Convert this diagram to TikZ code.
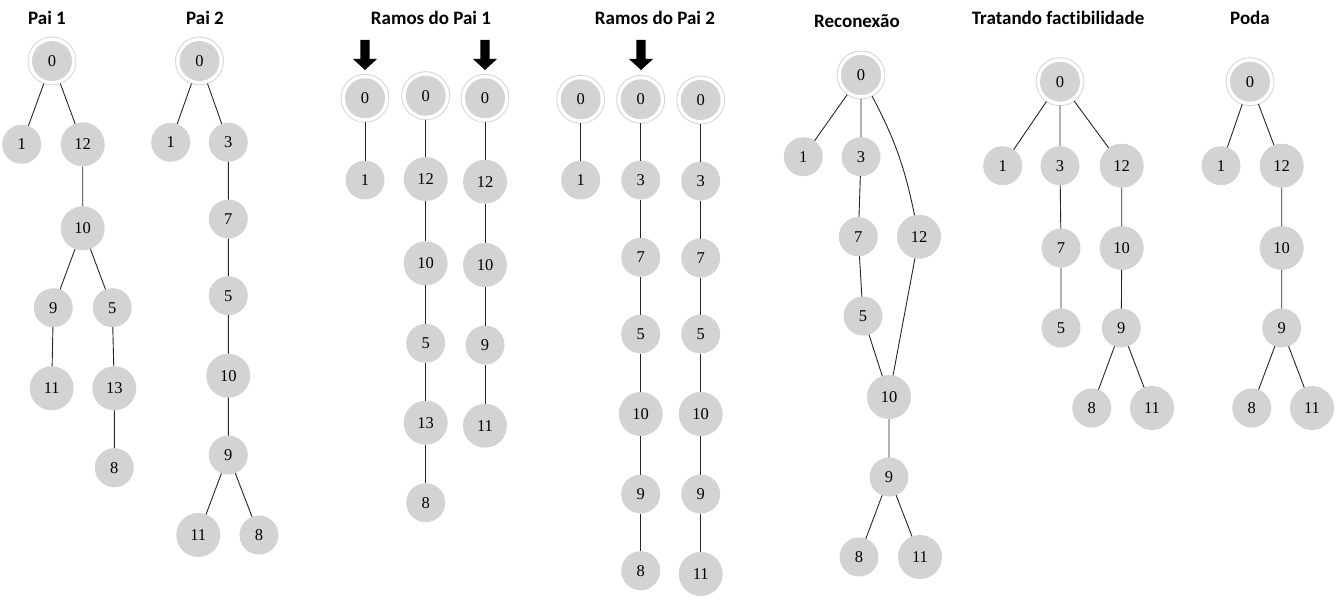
\documentclass[tikz,border=0pt]{standalone}
\usepackage{fontspec}
\usetikzlibrary{calc}
\setmainfont{Liberation Serif}
\newfontfamily\titlefont[Ligatures={NoCommon}]{Carlito}
\definecolor{nodegray}{HTML}{D3D3D3}
\definecolor{ringgray}{HTML}{D6D6D6}
\tikzset{
  x=1pt, y=-1pt,
  nd/.style={circle, fill=nodegray, minimum size=39pt, inner sep=0pt, outer sep=0pt, font=\fontsize{16.5}{16.5}\selectfont},
  nn/.style={nd, minimum size=44pt},
  rt/.style={circle, draw=ringgray, line width=0.9pt, fill=white, minimum size=48pt, inner sep=0pt, outer sep=0pt,
     font=\fontsize{16.5}{16.5}\selectfont,
     path picture={\fill[nodegray] (path picture bounding box.center) circle (20pt);}},
  ttl/.style={font=\titlefont\bfseries\fontsize{19}{20}\selectfont, inner sep=0pt},
  ed/.style={draw=black!85, line width=0.9pt},
  bigarrow/.style={fill=black}
}
\begin{document}
\begin{tikzpicture}
\useasboundingbox (0,0) rectangle (1341,607);
% titles
\node[ttl] (t1) at (47,18) {Pai 1};
\node[ttl] (t2) at (205,18) {Pai 2};
\node[ttl] (t3) at (431,18) {Ramos do Pai 1};
\node[ttl] (t4) at (655,18) {Ramos do Pai 2};
\node[ttl] (t5) at (857,21) {Reconexão};
\node[ttl] (t6) at (1058,18) {Tratando factibilidade};
\node[ttl] (t7) at (1250,18) {Poda};

% arrows
\foreach \ax/\nm in {365/a1, 485/a2, 641/a3}{
  \coordinate (\nm) at (\ax,70);
  \fill[bigarrow] ($(\nm)+(-4.7,-30)$) -- ($(\nm)+(4.7,-30)$) -- ($(\nm)+(4.7,-11)$) -- ($(\nm)+(12,-11)$) -- (\nm) -- ($(\nm)+(-12,-11)$) -- ($(\nm)+(-4.7,-11)$) -- cycle;
}

% ---------- Pai 1
\node[rt] (p0) at (52,61) {0};
\node[nd] (p1) at (21.7,144.3) {1};
\node[nn] (p12) at (82.7,144.3) {12};
\node[nn] (p10) at (82.7,228.3) {10};
\node[nd] (p9) at (53.3,307.7) {9};
\node[nd] (p5) at (112.3,307.7) {5};
\node[nn] (p11) at (51.7,388.3) {11};
\node[nn] (p13) at (114.3,388.3) {13};
\node[nd] (p8) at (114.3,467.7) {8};
\draw[ed] (p0)--(p1) (p0)--(p12) (p12)--(p10) (p10)--(p9) (p10)--(p5) (p9)--(p11) (p5)--(p13) (p13)--(p8);

% ---------- Pai 2
\node[rt] (q0) at (199.5,61) {0};
\node[nd] (q1) at (170.7,142.3) {1};
\node[nd] (q3) at (228.3,142.3) {3};
\node[nd] (q7) at (228.3,219) {7};
\node[nd] (q5) at (228.3,295.7) {5};
\node[nn] (q10) at (228.3,375.7) {10};
\node[nd] (q9) at (228.3,455) {9};
\node[nn] (q11) at (198.3,535) {11};
\node[nd] (q8) at (259,535) {8};
\draw[ed] (q0)--(q1) (q0)--(q3) (q3)--(q7) (q7)--(q5) (q5)--(q10) (q10)--(q9) (q9)--(q11) (q9)--(q8);

% ---------- Ramos do Pai 1
\node[rt] (ra0) at (365,98.3) {0};
\node[nd] (ra1) at (365,180) {1};
\draw[ed] (ra0)--(ra1);
\node[rt] (rb0) at (425.7,95.7) {0};
\node[nn] (rb12) at (425.7,179) {12};
\node[nn] (rb10) at (425.7,263.3) {10};
\node[nd] (rb5) at (425.7,343.3) {5};
\node[nn] (rb13) at (425.7,422.7) {13};
\node[nd] (rb8) at (425.7,502.7) {8};
\draw[ed] (rb0)--(rb12) (rb12)--(rb10) (rb10)--(rb5) (rb5)--(rb13) (rb13)--(rb8);
\node[rt] (rc0) at (485,98.3) {0};
\node[nn] (rc12) at (485,181.7) {12};
\node[nn] (rc10) at (485,265) {10};
\node[nd] (rc9) at (485,345) {9};
\node[nn] (rc11) at (485,425.7) {11};
\draw[ed] (rc0)--(rc12) (rc12)--(rc10) (rc10)--(rc9) (rc9)--(rc11);

% ---------- Ramos do Pai 2
\node[rt] (sa0) at (580.7,99.3) {0};
\node[nd] (sa1) at (580.7,180) {1};
\draw[ed] (sa0)--(sa1);
\node[rt] (sb0) at (640.7,99.3) {0};
\node[nd] (sb3) at (640.7,180) {3};
\node[nd] (sb7) at (640.7,257.3) {7};
\node[nd] (sb5) at (640.7,334) {5};
\node[nn] (sb10) at (640.7,414) {10};
\node[nd] (sb9) at (640.7,494) {9};
\node[nd] (sb8) at (640.7,570.7) {8};
\draw[ed] (sb0)--(sb3) (sb3)--(sb7) (sb7)--(sb5) (sb5)--(sb10) (sb10)--(sb9) (sb9)--(sb8);
\node[rt] (sc0) at (700.7,100) {0};
\node[nd] (sc3) at (700.7,181) {3};
\node[nd] (sc7) at (700.7,258) {7};
\node[nd] (sc5) at (700.7,334) {5};
\node[nn] (sc10) at (700.7,414) {10};
\node[nd] (sc9) at (700.7,494) {9};
\node[nn] (sc11) at (700.7,574) {11};
\draw[ed] (sc0)--(sc3) (sc3)--(sc7) (sc7)--(sc5) (sc5)--(sc10) (sc10)--(sc9) (sc9)--(sc11);

% ---------- Reconexão
\node[rt] (c0) at (861,75) {0};
\node[nd] (c1) at (803.3,156.7) {1};
\node[nd] (c3) at (861,156.7) {3};
\node[nd] (c7) at (858.3,236.7) {7};
\node[nn] (c12) at (919,236.7) {12};
\node[nd] (c5) at (863,316) {5};
\node[nn] (c10) at (889,397) {10};
\node[nd] (c9) at (889,477) {9};
\node[nd] (c8) at (859,557) {8};
\node[nn] (c11) at (920,557) {11};
\draw[ed] (c0)--(c1) (c0)--(c3) (c3)--(c7) (c7)--(c5) (c5)--(c10) (c12)--(c10) (c10)--(c9) (c9)--(c8) (c9)--(c11);
\draw[ed] (c0) to[bend left=8] (c12);

% ---------- Tratando factibilidade
\node[rt] (f0) at (1060,81.7) {0};
\node[nd] (f1) at (1002.7,165.7) {1};
\node[nd] (f3) at (1060,165.7) {3};
\node[nn] (f12) at (1121.7,165.7) {12};
\node[nd] (f7) at (1061,248) {7};
\node[nn] (f10) at (1121.7,248) {10};
\node[nd] (f5) at (1061,328) {5};
\node[nd] (f9) at (1121.3,328) {9};
\node[nd] (f8) at (1091.7,408) {8};
\node[nn] (f11) at (1152,408) {11};
\draw[ed] (f0)--(f1) (f0)--(f3) (f0)--(f12) (f3)--(f7) (f7)--(f5) (f12)--(f10) (f10)--(f9) (f9)--(f8) (f9)--(f11);

% ---------- Poda
\node[rt] (g0) at (1250,81.7) {0};
\node[nd] (g1) at (1221,165.7) {1};
\node[nn] (g12) at (1281.7,165.7) {12};
\node[nn] (g10) at (1281.7,248) {10};
\node[nd] (g9) at (1281.7,328) {9};
\node[nd] (g8) at (1251.7,408) {8};
\node[nn] (g11) at (1312,408) {11};
\draw[ed] (g0)--(g1) (g0)--(g12) (g12)--(g10) (g10)--(g9) (g9)--(g8) (g9)--(g11);
\end{tikzpicture}
\end{document}
